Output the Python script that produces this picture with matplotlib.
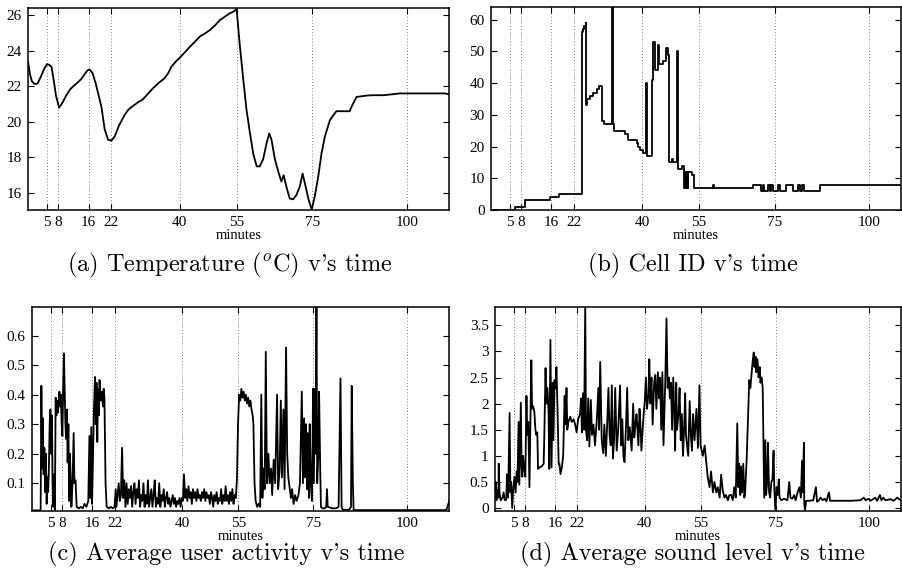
import matplotlib
matplotlib.use("Agg")
import matplotlib.pyplot as plt

plt.rcParams['mathtext.fontset'] = 'cm'

# ---------------- data ----------------
xticks = [5, 8, 16, 22, 40, 55, 75, 100]
xlabel = "minutes"

# (a) temperature
t_temp = [0, 0.5, 1, 1.7, 2.5, 3.3, 4.2, 5.0, 5.6, 6.2, 6.8, 7.4, 8.2, 9.0, 10, 11, 11.9, 13, 14, 15,
          15.7, 16.2, 17, 17.8, 18.5, 19.4, 20.2, 21.1, 22, 22.9, 24, 25.5, 26.5, 27.7, 29, 30.3, 31.5,
          33, 34.5, 36, 37, 37.8, 39, 40, 41.3, 42.6, 44, 45.3, 46.5, 47.9, 49.2, 50.5, 51.8, 53.2,
          54.2, 55, 55.8, 56.7, 57.6, 58.5, 59.4, 60.3, 61.1, 62, 62.9, 63.6, 64.2, 65.1, 66, 66.8,
          67.4, 68.2, 69, 69.9, 70.8, 71.7, 72.4, 73, 73.9, 74.8, 75.6, 76.5, 77.4, 78.3, 79.6, 81.3,
          83, 84.8, 85.3, 86.6, 89.3, 91, 93.7, 96, 98, 102, 106.9, 110, 111]
temp = [23.4, 22.7, 22.3, 22.13, 22.15, 22.5, 22.95, 23.25, 23.2, 23.1, 22.3, 21.45, 20.8, 21.05,
        21.45, 21.8, 22.0, 22.2, 22.4, 22.7, 22.9, 22.95, 22.75, 22.2, 21.6, 20.8, 19.6, 19.0, 18.95,
        19.2, 19.8, 20.4, 20.7, 20.9, 21.1, 21.27, 21.55, 21.9, 22.2, 22.45, 22.75, 23.1, 23.4, 23.6,
        23.9, 24.2, 24.5, 24.8, 24.95, 25.15, 25.4, 25.7, 25.9, 26.1, 26.2, 26.35, 24.4, 22.5, 20.7,
        19.4, 18.2, 17.5, 17.5, 17.9, 18.8, 19.35, 19.0, 17.9, 17.2, 16.65, 17.0, 16.3, 15.7, 15.65,
        15.9, 16.4, 17.1, 16.55, 15.7, 15.07, 15.8, 16.9, 18.25, 19.2, 20.1, 20.6, 20.6, 20.6, 20.85,
        21.4, 21.48, 21.5, 21.5, 21.55, 21.6, 21.6, 21.6, 21.6, 21.55]
temp_yticks = [16, 18, 20, 22, 24, 26]

# (b) cell id (step function, value holds until next time)
t_cell = [0, 6.3, 8.9, 15.7, 17.9, 24.06, 24.3, 24.7, 25.0, 25.2, 25.4, 26.25, 27.1, 28.0, 28.6,
          29.3, 29.8, 32.0, 32.3, 32.6, 35.5, 36.3, 38.5, 39.0, 39.4, 40.1, 41.0, 41.3, 42.5, 42.8,
          43.3, 44.2, 44.5, 45.6, 46.2, 46.4, 46.7, 47.0, 47.9, 48.2, 49.1, 49.4, 50.6, 51.0, 51.3,
          51.5, 51.8, 52.1, 52.2, 53.1, 53.6, 58.7, 59.1, 69.3, 71.5, 71.9, 72.3, 73.2, 73.7, 74.1,
          74.5, 75.9, 76.5, 77.9, 80.0, 81.1, 81.6, 82.3, 82.9, 87.0, 108.3]
cell = [0, 1, 3, 4, 5, 56, 57, 58, 59, 33, 35, 36, 37, 38, 39,
        28, 27, 70, 27, 25, 24, 22, 21, 20, 19, 18, 40, 17, 41, 53,
        44, 52, 46, 47, 49, 51, 49, 15, 16, 15, 50, 13, 14, 7, 12,
        7, 12, 7, 12, 11, 7, 8, 7, 8, 6, 8, 6, 8, 6, 8,
        6, 8, 6, 8, 6, 8, 6, 8, 6, 8, 8]
cell_yticks = [0, 10, 20, 30, 40, 50, 60]

# (c) average user activity
t_act = [0, 2.3, 2.5, 2.7, 2.9, 3.1, 3.3, 3.5, 3.7, 3.9, 4.1, 4.3, 4.5, 4.7, 4.9, 5.1, 5.3, 5.5, 5.7,
         5.9, 6.1, 6.3, 6.5, 6.7, 6.9, 7.1, 7.3, 7.5, 7.7, 7.9, 8.1, 8.3, 8.5, 8.7, 8.9, 9.1, 9.3, 9.5,
         9.7, 9.9, 10.1, 10.3, 10.5, 10.8, 11.1, 11.3, 11.6, 11.9, 12.5, 13, 13.5, 14, 14.5, 15, 15.3,
         15.5, 15.8, 16.0, 16.2, 16.5, 16.8, 17.0, 17.2, 17.4, 17.6, 17.8, 18.0, 18.3, 18.6, 18.9,
         19.1, 19.3, 19.6, 19.9, 20.5, 21, 21.5, 22.0, 22.3, 22.5, 22.8, 23.1, 23.4, 23.7, 24.0, 24.3,
         24.6, 24.9, 25.2, 25.5, 25.8, 26.1, 26.4, 26.7, 27.0, 27.3, 27.6, 27.9, 28.2, 28.5, 28.8,
         29.1, 29.4, 29.7, 30.0, 30.3, 30.6, 30.9, 31.2, 31.5, 31.8, 32.1, 32.4, 32.7, 33.0, 33.3,
         33.6, 33.9, 34.2, 34.5, 34.8, 35.1, 35.4, 35.7, 36.0, 36.3, 36.6, 36.9, 37.2, 37.5, 37.8,
         38.1, 38.4, 38.7, 39.0, 39.3, 39.6, 39.9, 40.2, 40.5, 40.8, 41.1, 41.4, 41.7, 42.0, 42.3,
         42.6, 42.9, 43.2, 43.5, 43.8, 44.1, 44.4, 44.7, 45.0, 45.3, 45.6, 45.9, 46.2, 46.5, 46.8,
         47.1, 47.4, 47.7, 48.0, 48.3, 48.6, 48.9, 49.2, 49.5, 49.8, 50.1, 50.4, 50.7, 51.0, 51.3,
         51.6, 51.9, 52.2, 52.5, 52.8, 53.1, 53.4, 53.7, 54.0, 54.3, 54.6, 54.9, 55.2, 55.5, 55.8,
         56.1, 56.4, 56.7, 57.0, 57.3, 57.6, 57.9, 58.2, 58.5, 58.8, 59.0, 59.3, 59.6, 60.0, 60.4,
         60.8, 61.1, 61.4, 61.7, 62.0, 62.3, 62.6, 63.0, 63.3, 63.7, 64.0, 64.4, 64.8, 65.3, 65.6,
         66.0, 66.3, 66.6, 67.0, 67.3, 67.7, 68.0, 68.3, 68.6, 69.0, 69.3, 69.7, 70.1, 70.5, 71.0,
         71.4, 71.9, 72.2, 72.5, 72.8, 73.0, 73.3, 73.5, 73.8, 74.0, 74.3, 74.6, 74.9, 75.1, 75.4,
         75.6, 75.8, 76.0, 76.3, 76.5, 76.8, 77.0, 77.3, 78.0, 78.4, 78.6, 78.8, 80, 81, 81.7, 81.9,
         82.2, 82.5, 82.8, 84.5, 85.0, 85.2, 85.5, 85.7, 95, 105, 110.4, 110.7, 111.2]
act = [0.008, 0.008, 0.43, 0.15, 0.32, 0.13, 0.22, 0.07, 0.2, 0.03, 0.12, 0.07, 0.15, 0.3, 0.35, 0.2,
       0.33, 0.1, 0.02, 0.13, 0.01, 0.39, 0.33, 0.38, 0.34, 0.37, 0.41, 0.36, 0.4, 0.3, 0.26, 0.42,
       0.54, 0.42, 0.3, 0.25, 0.35, 0.17, 0.3, 0.04, 0.2, 0.12, 0.02, 0.1, 0.27, 0.1, 0.11, 0.02,
       0.015, 0.02, 0.015, 0.03, 0.02, 0.04, 0.26, 0.05, 0.29, 0.03, 0.15, 0.35, 0.46, 0.3, 0.44,
       0.24, 0.42, 0.33, 0.45, 0.38, 0.41, 0.36, 0.42, 0.39, 0.1, 0.02, 0.015, 0.02, 0.015, 0.02,
       0.08, 0.02, 0.06, 0.1, 0.04, 0.06, 0.22, 0.05, 0.11, 0.02, 0.1, 0.03, 0.08, 0.05, 0.09, 0.02,
       0.07, 0.1, 0.03, 0.08, 0.05, 0.11, 0.02, 0.06, 0.04, 0.1, 0.02, 0.06, 0.03, 0.11, 0.02, 0.05,
       0.08, 0.02, 0.06, 0.11, 0.02, 0.05, 0.03, 0.1, 0.02, 0.06, 0.04, 0.08, 0.02, 0.05, 0.07, 0.03,
       0.05, 0.02, 0.04, 0.06, 0.03, 0.05, 0.02, 0.04, 0.03, 0.05, 0.02, 0.05, 0.04, 0.13, 0.05,
       0.08, 0.04, 0.09, 0.05, 0.07, 0.03, 0.08, 0.05, 0.07, 0.04, 0.08, 0.05, 0.06, 0.04, 0.07,
       0.05, 0.08, 0.04, 0.07, 0.05, 0.06, 0.03, 0.07, 0.05, 0.02, 0.06, 0.04, 0.07, 0.03, 0.05,
       0.04, 0.08, 0.03, 0.06, 0.04, 0.09, 0.04, 0.06, 0.03, 0.07, 0.04, 0.08, 0.03, 0.06, 0.05,
       0.11, 0.3, 0.4, 0.38, 0.42, 0.39, 0.41, 0.38, 0.4, 0.37, 0.39, 0.36, 0.38, 0.35, 0.33, 0.3,
       0.1, 0.04, 0.02, 0.03, 0.02, 0.4, 0.05, 0.15, 0.08, 0.545, 0.1, 0.2, 0.1, 0.15, 0.06, 0.18,
       0.1, 0.4, 0.08, 0.15, 0.38, 0.12, 0.35, 0.08, 0.56, 0.2, 0.12, 0.09, 0.05, 0.08, 0.03, 0.06,
       0.04, 0.06, 0.1, 0.41, 0.1, 0.32, 0.12, 0.3, 0.08, 0.27, 0.05, 0.3, 0.1, 0.04, 0.42, 0.1,
       0.42, 0.2, 0.72, 0.1, 0.2, 0.41, 0.15, 0.02, 0.015, 0.015, 0.02, 0.08, 0.02, 0.015, 0.015,
       0.02, 0.2, 0.455, 0.02, 0.01, 0.01, 0.02, 0.43, 0.1, 0.009, 0.009, 0.009, 0.009, 0.02, 0.04]
act_yticks = [0.1, 0.2, 0.3, 0.4, 0.5, 0.6]

# (d) average sound level
t_snd = [0.0, 0.2, 0.4, 0.6, 0.9, 1.0, 1.2, 1.5, 2.0, 2.3, 2.6, 3.0, 3.2, 3.5, 3.9, 4.1, 4.3, 4.6,
         4.9, 5.2, 5.5, 5.8, 6.0, 6.3, 6.5, 6.9, 7.1, 7.3, 7.5, 7.8, 8.1, 8.4, 8.6, 8.9, 9.2, 9.4,
         9.7, 9.9, 10.2, 10.5, 10.8, 11.0, 11.3, 11.5, 11.9, 12.5, 13.0, 13.2, 13.5, 13.7, 14.0,
         14.3, 14.5, 14.8, 15.1, 15.4, 15.6, 15.9, 16.2, 16.4, 16.7, 17.0, 17.2, 17.5, 17.9, 18.2,
         18.6, 18.8, 19.1, 19.3, 19.6, 20.1, 20.5, 21.0, 21.4, 21.8, 22.2, 22.7, 23.0, 23.2, 23.5,
         23.8, 24.1, 24.3, 24.6, 24.9, 25.2, 25.6, 25.9, 26.3, 26.7, 27.2, 27.6, 27.8, 28.1, 28.5,
         28.9, 29.2, 29.6, 29.9, 30.3, 30.6, 30.9, 31.2, 31.5, 31.8, 32.1, 32.5, 32.9, 33.4, 33.7,
         34.0, 34.3, 34.6, 35.0, 35.3, 35.6, 36.0, 36.5, 36.9, 37.2, 37.5, 37.8, 38.3, 38.6, 38.9,
         39.1, 39.6, 40.0, 40.3, 40.6, 41.0, 41.2, 41.5, 41.8, 42.1, 42.5, 42.8, 43.1, 43.5, 43.8,
         44.1, 44.4, 44.7, 45.0, 45.3, 45.5, 45.8, 46.1, 46.4, 46.7, 47.0, 47.3, 47.6, 47.9, 48.1,
         48.4, 48.6, 49.0, 49.3, 49.6, 49.9, 50.2, 50.5, 50.8, 51.0, 51.3, 51.6, 52.0, 52.3, 52.6,
         52.9, 53.3, 53.8, 54.2, 54.6, 54.9, 55.5, 56.0, 56.4, 56.8, 57.3, 57.7, 58.2, 58.6, 59.1,
         59.5, 60.0, 60.4, 60.8, 61.3, 61.7, 62.2, 62.6, 63.1, 63.5, 63.9, 64.3, 64.7, 65.0, 65.2,
         65.5, 65.7, 66.0, 66.3, 66.6, 66.8, 67.2, 67.5, 67.9, 68.2, 68.5, 68.8, 69.1, 69.3, 69.6,
         69.8, 70.1, 70.4, 70.7, 70.9, 71.2, 71.5, 71.9, 72.2, 72.4, 72.7, 72.9, 73.2, 73.5, 73.8,
         74.1, 74.4, 74.6, 74.9, 75.2, 75.5, 75.8, 76.0, 76.5, 77.2, 78.1, 78.6, 78.9, 79.4, 79.9,
         80.3, 80.8, 81.3, 81.7, 82.0, 82.2, 82.5, 82.6, 82.8, 83.1, 84, 85, 85.7, 86.0, 86.5, 87.0,
         87.5, 88.0, 88.5, 89.2, 89.5, 92, 95, 97.6, 98.5, 99.0, 99.8, 100.3, 101.6, 102.0, 102.8,
         103.2, 103.7, 104.3, 105.6, 106.5, 107.4, 108.3]
snd = [0.3, 0.5, 0.15, 0.35, 0.2, 0.85, 0.3, 0.15, 0.2, 0.3, 0.15, 0.16, 0.65, 0.2, 1.82, 0.3, 0.5,
       0.0, 0.4, 0.6, 0.3, 0.7, 0.5, 1.65, 0.45, 2.02, 0.8, 0.6, 1.0, 0.75, 0.6, 2.15, 1.4, 1.65,
       0.4, 1.4, 2.83, 1.9, 1.95, 1.85, 1.5, 1.4, 1.45, 0.75, 0.78, 0.8, 0.85, 1.5, 2.68, 2.0, 2.3,
       1.85, 0.75, 3.22, 0.78, 2.4, 1.3, 2.45, 2.3, 2.7, 1.9, 0.85, 0.85, 0.65, 0.8, 1.0, 2.15, 1.6,
       2.3, 1.5, 1.65, 1.75, 1.65, 1.7, 1.6, 1.45, 1.7, 1.8, 2.1, 1.45, 2.2, 1.5, 3.9, 1.5, 1.3,
       2.1, 1.18, 2.07, 1.4, 1.6, 1.2, 1.7, 2.3, 1.5, 2.8, 1.3, 1.05, 1.6, 1.0, 1.5, 2.3, 1.4, 1.2,
       2.35, 0.95, 1.3, 2.3, 1.1, 1.5, 2.35, 1.2, 1.7, 1.0, 0.88, 1.6, 2.3, 1.3, 1.55, 1.1, 2.0,
       1.35, 1.6, 1.8, 1.2, 1.9, 1.5, 1.1, 1.7, 2.05, 2.5, 1.9, 2.2, 2.85, 2.0, 2.5, 1.6, 2.4, 2.55,
       1.9, 2.6, 2.1, 2.5, 1.5, 2.6, 1.2, 2.0, 2.5, 3.63, 2.3, 2.5, 2.1, 2.4, 1.5, 2.5, 1.8, 1.1,
       2.4, 1.5, 1.8, 2.3, 1.3, 1.8, 1.0, 1.5, 2.2, 1.4, 1.2, 1.0, 2.05, 1.4, 1.1, 1.8, 1.3, 1.9,
       1.15, 2.35, 1.2, 1.0, 1.2, 0.9, 0.6, 0.4, 0.7, 0.3, 0.5, 0.3, 0.4, 0.2, 0.64, 0.35, 0.2, 0.25,
       0.15, 0.25, 0.25, 0.15, 0.4, 0.2, 1.62, 0.4, 0.85, 0.25, 0.8, 0.3, 0.85, 0.2, 0.3, 0.9, 1.55,
       2.45, 2.3, 2.55, 2.8, 2.98, 2.7, 2.9, 2.6, 2.85, 2.5, 2.7, 2.4, 2.5, 2.3, 0.2, 1.3, 0.25, 0.5,
       1.25, 0.3, 0.2, 0.5, 0.55, 1.1, 0.35, -0.05, 0.4, 0.25, 0.55, 0.2, 0.15, 0.18, 0.15, 0.5, 0.2,
       0.18, 0.25, 0.15, 0.3, 0.4, 0.2, 0.9, 0.3, 1.25, 0.1, -0.05, 0.14, 0.14, 0.15, 0.4, 0.12,
       0.15, 0.2, 0.15, 0.18, 0.13, 0.3, 0.14, 0.14, 0.14, 0.15, 0.2, 0.15, 0.18, 0.14, 0.2, 0.14,
       0.25, 0.15, 0.2, 0.15, 0.17, 0.14, 0.2, 0.15]
snd_yticks = [0, 0.5, 1, 1.5, 2, 2.5, 3, 3.5]
snd_yticklabels = ["0", "0.5", "1", "1.5", "2", "2.5", "3", "3.5"]

captions = ["(a) Temperature ($^o$C) v's time",
            "(b) Cell ID v's time",
            "(c) Average user activity v's time",
            "(d) Average sound level v's time"]

# ---------------- figure ----------------
W, H = 902, 578
fig = plt.figure(figsize=(W / 100, H / 100), dpi=100)


def rect(l, t, r, b):
    return [l / W, 1 - b / H, (r - l) / W, (b - t) / H]


tick_font = dict(family="Liberation Serif", size=11)

panels = [
    dict(rect=rect(28, 8, 449, 210), x=t_temp, y=temp, xlim=(0, 111), ylim=(15.05, 26.4),
         yticks=temp_yticks, ylabels=None, step=False, cpos=(230, 265)),
    dict(rect=rect(491, 7, 900.5, 210), x=t_cell, y=cell, xlim=(0, 108.3), ylim=(0, 64),
         yticks=cell_yticks, ylabels=None, step=True, cpos=(693, 265)),
    dict(rect=rect(32, 307, 449.3, 510.7), x=t_act, y=act, xlim=(0, 111.2), ylim=(0.007, 0.697),
         yticks=act_yticks, ylabels=None, step=False, cpos=(226, 554)),
    dict(rect=rect(495, 307, 900.5, 510.7), x=t_snd, y=snd, xlim=(0, 108.3), ylim=(-0.05, 3.85),
         yticks=snd_yticks, ylabels=snd_yticklabels, step=False, cpos=(692, 554)),
]

for p, caption in zip(panels, captions):
    ax = fig.add_axes(p["rect"])
    n = min(len(p["x"]), len(p["y"]))
    if p["step"]:
        ax.plot(p["x"][:n], p["y"][:n], color="black", lw=1.3, drawstyle="steps-post")
    else:
        ax.plot(p["x"][:n], p["y"][:n], color="black", lw=1.3)
    ax.set_xlim(*p["xlim"])
    ax.set_ylim(*p["ylim"])
    ax.set_xticks(xticks)
    ax.set_xticklabels([str(v) for v in xticks], **tick_font)
    ax.set_yticks(p["yticks"])
    if p["ylabels"] is not None:
        ax.set_yticklabels(p["ylabels"], **tick_font)
    else:
        ax.set_yticklabels([("%g" % v) for v in p["yticks"]], **tick_font)
    for xv in xticks:
        ax.axvline(xv, color="0.5", lw=0.7, ls=(0, (1, 2.2)), zorder=0)
    ax.tick_params(direction="in", top=True, right=True, length=4, width=0.8, pad=4.5)
    for s in ax.spines.values():
        s.set_linewidth(1.1)
    ax.set_xlabel(xlabel, family="Liberation Serif", size=10.5, labelpad=0)
    cx, cy = p["cpos"]
    fig.text(cx / W, 1 - cy / H, caption, family="cmr10", size=17.5,
             ha="center", va="center")

fig.savefig("out.png", dpi=100)
